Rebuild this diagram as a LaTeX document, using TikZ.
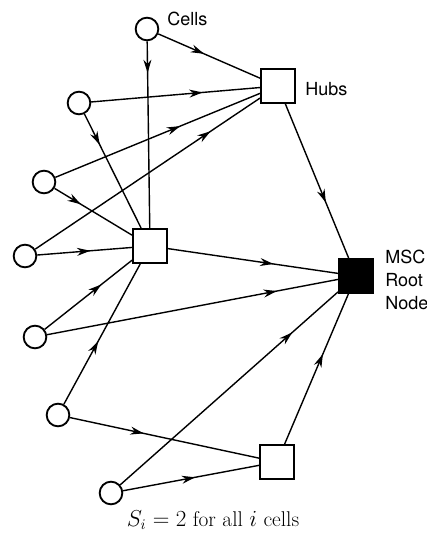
\documentclass[tikz,border=0pt]{standalone}
\usepackage{amsmath}
\usepackage{fontspec}
\newfontfamily\labelfont{TeX Gyre Heros}
\usetikzlibrary{positioning,calc,arrows.meta,decorations.markings}
\tikzset{
	cell/.style={circle, draw, line width=1.4pt, minimum size=17pt, inner sep=0pt},
	hub/.style={rectangle, draw, line width=1.5pt, minimum size=25.5pt, inner sep=0pt},
	root/.style={hub, fill=black},
	lbl/.style={font=\labelfont\fontsize{13.5}{17.3}\selectfont, align=left, anchor=west, inner sep=0pt},
	flow/.style={line width=1.05pt, postaction={decorate},
		decoration={markings, mark=at position #1 with {\arrow{Stealth[length=10pt,width=6pt]}}}},
}

\begin{document}
\begin{tikzpicture}[x=0.75pt, y=-0.75pt]
	\useasboundingbox (0,0) rectangle (427,535);
	\begin{scope}
		\node[cell] (c1) at (147, 29) {};
		\node[cell] (c2) at (79, 103) {};
		\node[cell] (c3) at (44, 182) {};
		\node[cell] (c4) at (25, 256) {};
		\node[cell] (c5) at (35, 337) {};
		\node[cell] (c6) at (58, 415) {};
		\node[cell] (c7) at (111, 493) {};

		\node[hub] (h1) at (278, 86) {};
		\node[hub] (h2) at (150, 246) {};
		\node[hub] (h3) at (277, 462) {};
		\node[root] (msc) at (356, 276) {};

		\node[lbl] (cellslbl) at (167, 19) {Cells};
		\node[lbl] (hubslbl) at (305, 89) {Hubs};
		\node[lbl] (msclbl) at (385, 280) {MSC\\Root\\Node};

		\draw[flow=0.45](c1) -- (h1);
		\draw[flow=0.17](c1) -- (h2);
		\draw[flow=0.66](c2) -- (h1);
		\draw[flow=0.27](c2) -- (h2);
		\draw[flow=0.61](c3) -- (h1);
		\draw[flow=0.34](c3) -- (h2);
		\draw[flow=0.78](c4) -- (h1);
		\draw[flow=0.56](c4) -- (h2);
		\draw[flow=0.65](c5) -- (h2);
		\draw[flow=0.79](c5) -- (msc);
		\draw[flow=0.45](c6) -- (h2);
		\draw[flow=0.39](c6) -- (h3);
		\draw[flow=0.79](c7) -- (msc);
		\draw[flow=0.53](c7) -- (h3);
		\draw[flow=0.64](h1) -- (msc);
		\draw[flow=0.62](h2) -- (msc);
		\draw[flow=0.60](h3) -- (msc);

		\node (caption) at (213, 520) {\fontsize{16}{19}\selectfont $S_i = 2$ for all $i$ cells};
	\end{scope}
\end{tikzpicture}
\end{document}
